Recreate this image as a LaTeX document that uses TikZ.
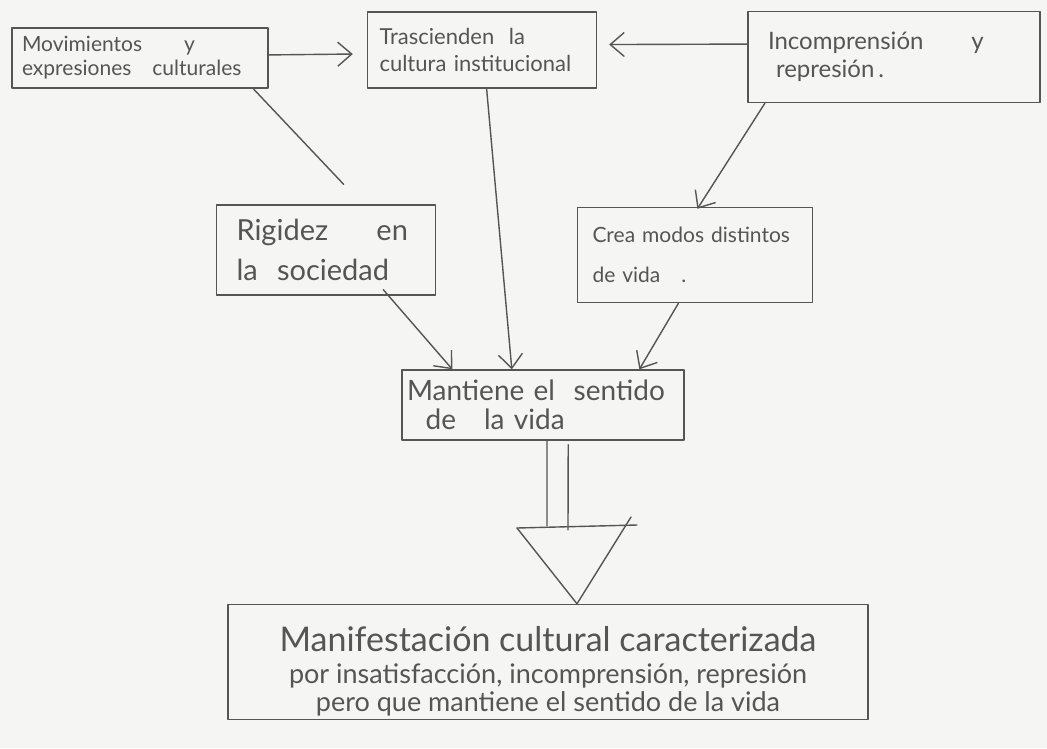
\documentclass[tikz,border=0pt]{standalone}
\usepackage{fontspec}
\setmainfont{Lato}
\usetikzlibrary{arrows.meta,calc}
\definecolor{ink}{HTML}{555555}
\definecolor{paper}{HTML}{F5F5F3}
\begin{document}
\begin{tikzpicture}[x=1pt,y=-1pt,
  ink line/.style={draw=ink,line width=1.4pt,line cap=round,line join=round},
  box/.style={ink line,rectangle,inner ysep=4pt,align=left,text=ink,anchor=center},
  flow/.style={ink line,-{Straight Barb[length=14pt,width=24pt,line width=1.4pt]}},
  plain/.style={ink line}]
  % sheet
  \fill[paper] (0,0) rectangle (1047,748);
  \useasboundingbox (0,0) rectangle (1047,748);

  % boxes
  \node[box,minimum width=256pt,minimum height=60pt,inner xsep=10pt,text width=236pt,
        font=\fontsize{21}{24}\selectfont]
    (mov) at (140,58) {Movimientos\qquad y\\expresiones\ \ \ culturales};
  \node[box,minimum width=229pt,minimum height=76pt,inner xsep=12pt,text width=205pt,
        font=\fontsize{22}{27}\selectfont]
    (tra) at (482,50) {Trascienden\ \ la\\cultura institucional};
  \node[box,minimum width=292pt,minimum height=91pt,inner xsep=20pt,text width=252pt,
        font=\fontsize{24}{28}\selectfont]
    (inc) at (894,57) {Incomprensión\qquad y\\\ represión\,.};
  \node[box,minimum width=219pt,minimum height=90pt,inner xsep=20pt,text width=179pt,
        font=\fontsize{29}{40}\selectfont]
    (rig) at (326,250) {Rigidez\quad\ \ en\\la\ \ sociedad};
  \node[box,minimum width=235pt,minimum height=95pt,inner xsep=15pt,text width=205pt,
        font=\fontsize{21}{40}\selectfont]
    (cre) at (695,255) {Crea modos distintos\\de vida\ \ \ .};
  \node[box,minimum width=282pt,minimum height=70pt,inner xsep=5pt,text width=272pt,
        font=\fontsize{28}{29}\selectfont]
    (man) at (543,405) {Mantiene el\ \ sentido\\\ \ de\ \ \ la vida};
  \node[box,minimum width=640pt,minimum height=115pt,inner ysep=0pt,align=center,
        font=\fontsize{27}{28}\selectfont]
    (fin) at (548,662) {\rule{0pt}{44pt}{\fontsize{34}{38}\selectfont Manifestación cultural caracterizada}\\[4pt]
      por insatisfacción, incomprensión, represión\\
      pero que mantiene el sentido de la vida};

  % connectors
  \draw[flow,shorten >=14pt] ($(mov.north east)!0.45!(mov.south east)$)
    -- ($(tra.north west)!0.55!(tra.south west)$);
  \draw[flow,shorten >=12pt] ($(inc.north west)!0.36!(inc.south west)$)
    -- ($(tra.north east)!0.43!(tra.south east)$);
  \coordinate (rigtop) at ($(rig.north west)!0.58!(rig.north east)+(0,-20)$);
  \draw[plain] ($(mov.south west)!0.94!(mov.south east)$) -- (rigtop);
  \draw[flow] ($(tra.south west)!0.52!(tra.south east)$)
    -- ($(man.north west)!0.39!(man.north east)$);
  \draw[flow] ($(inc.south west)!0.06!(inc.south east)$)
    -- ($(cre.north west)!0.51!(cre.north east)+(0,2)$);
  \draw[flow] ($(rig.south west)!0.76!(rig.south east)+(0,-6)$)
    -- ($(man.north west)!0.18!(man.north east)$);
  \draw[flow] ($(cre.south west)!0.43!(cre.south east)$)
    -- ($(man.north west)!0.84!(man.north east)$);

  % wide arrow from "Mantiene" down to the final box
  \coordinate (tipL) at (517,528);
  \coordinate (tipR) at (637,525);
  \draw[plain] ($(man.south west)!0.514!(man.south east)$) -- (547,526);
  \draw[plain] ($(man.south west)!0.589!(man.south east)+(0,4)$) -- (568,530);
  \draw[plain] (tipL) -- (tipR);
  \draw[plain] (tipL) -- (fin.north -| 577,0) -- (631,517);
\end{tikzpicture}
\end{document}
